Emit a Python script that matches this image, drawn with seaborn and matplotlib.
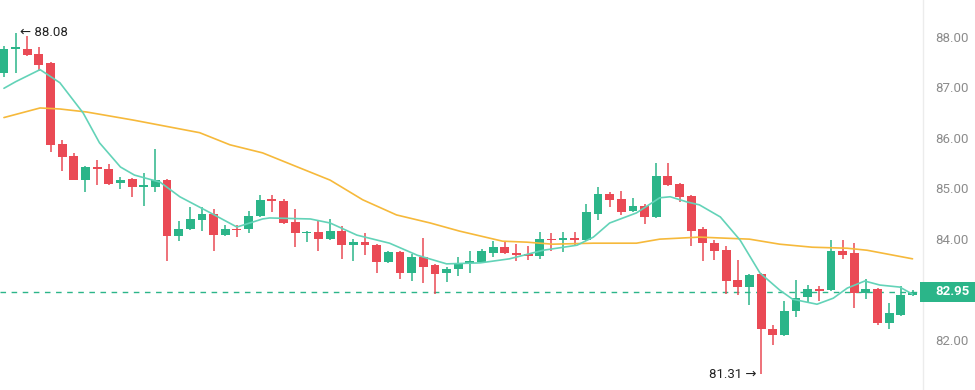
import numpy as np
import pandas as pd
import matplotlib
matplotlib.use("Agg")
import matplotlib.pyplot as plt
import matplotlib.transforms as mtransforms
from matplotlib.patches import Rectangle
import seaborn as sns

# candle data (one entry per bar)
opens = [87.29, 87.76, 87.76, 87.66, 87.48, 85.88, 85.64, 85.16, 85.42, 85.38,
         85.10, 85.18, 85.02, 85.02, 85.16, 84.05, 84.19, 84.37, 84.49, 84.07,
         84.19, 84.19, 84.45, 84.77, 84.75, 84.33, 84.11, 84.13, 83.99, 84.15,
         83.87, 83.93, 83.87, 83.54, 83.73, 83.32, 83.63, 83.48, 83.32, 83.40,
         83.52, 83.54, 83.71, 83.83, 83.71, 83.69, 83.65, 83.99, 83.97, 84.01,
         83.97, 84.49, 84.89, 84.79, 84.55, 84.65, 84.43, 85.24, 85.08, 84.85,
         84.19, 83.91, 83.77, 83.18, 83.04, 83.30, 82.21, 82.09, 82.56, 82.84,
         83.00, 82.98, 83.75, 83.71, 82.92, 83.00, 82.33, 82.48, 82.88]
highs = [87.82, 88.08, 88.02, 87.80, 87.50, 85.96, 85.70, 85.44, 85.56, 85.48,
         85.22, 85.20, 85.30, 85.78, 85.18, 84.35, 84.63, 84.63, 84.59, 84.27,
         84.27, 84.55, 84.87, 84.87, 84.79, 84.59, 84.15, 84.35, 84.39, 84.25,
         83.99, 84.11, 83.89, 83.75, 83.75, 83.69, 84.01, 83.50, 83.44, 83.63,
         83.75, 83.79, 83.95, 83.93, 83.89, 83.85, 84.13, 84.11, 84.13, 84.13,
         84.69, 85.02, 84.92, 84.94, 84.81, 84.69, 85.50, 85.50, 85.10, 84.87,
         84.23, 83.97, 83.85, 83.58, 83.30, 83.32, 82.29, 82.76, 83.18, 83.08,
         83.06, 83.97, 83.97, 83.91, 83.20, 83.02, 82.72, 83.06, 82.99]
lows = [87.21, 87.29, 87.62, 87.33, 85.72, 85.34, 85.16, 84.92, 85.06, 85.06,
        84.98, 84.83, 84.65, 84.92, 83.56, 83.95, 84.17, 84.15, 83.75, 84.05,
        84.03, 84.11, 84.43, 84.53, 84.29, 83.83, 83.93, 83.75, 83.97, 83.60,
        83.56, 83.67, 83.32, 83.52, 83.20, 83.16, 83.12, 82.90, 83.14, 83.26,
        83.32, 83.52, 83.63, 83.69, 83.56, 83.58, 83.60, 83.75, 83.73, 83.87,
        83.95, 84.37, 84.63, 84.47, 84.53, 84.29, 84.41, 85.04, 84.73, 83.85,
        83.56, 83.58, 82.90, 82.88, 82.68, 81.31, 81.89, 82.07, 82.44, 82.72,
        82.76, 82.96, 83.60, 82.62, 82.80, 82.29, 82.21, 82.46, 82.86]
closes = [87.76, 87.76, 87.64, 87.44, 85.86, 85.62, 85.16, 85.42, 85.38, 85.08,
          85.16, 85.02, 85.06, 85.16, 84.05, 84.19, 84.39, 84.49, 84.07, 84.19,
          84.17, 84.45, 84.77, 84.75, 84.31, 84.11, 84.13, 83.99, 84.15, 83.87,
          83.93, 83.87, 83.54, 83.73, 83.32, 83.63, 83.44, 83.30, 83.40, 83.52,
          83.56, 83.75, 83.83, 83.71, 83.67, 83.65, 83.99, 83.97, 84.01, 83.97,
          84.53, 84.89, 84.77, 84.53, 84.65, 84.43, 85.24, 85.06, 84.83, 84.15,
          83.91, 83.75, 83.16, 83.04, 83.28, 82.21, 82.09, 82.56, 82.82, 83.00,
          82.96, 83.75, 83.67, 82.92, 83.00, 82.33, 82.52, 82.88, 82.95]

# moving average lines (bar index, price)
ma_fast_idx = [0, 1.0, 3.1, 4.8, 6.8, 8.2, 10.0, 11.2, 13.4, 15.1, 17.9, 20.0,
               22.2, 22.8, 26.3, 28.0, 30.3, 33.1, 35.5, 38.0, 40.9, 43.4,
               46.3, 49.2, 50.6, 52.0, 54.3, 56.3, 57.2, 58.6, 59.7, 61.5,
               63.2, 64.9, 66.6, 67.7, 69.8, 71.2, 72.4, 73.9, 75.2, 76.9, 78.0]
ma_fast = [86.98, 87.11, 87.35, 87.09, 86.49, 85.90, 85.42, 85.26, 85.12, 84.83,
           84.49, 84.23, 84.39, 84.41, 84.39, 84.31, 84.07, 83.91, 83.67, 83.50,
           83.52, 83.60, 83.77, 83.87, 84.03, 84.31, 84.51, 84.81, 84.83, 84.73,
           84.67, 84.43, 83.97, 83.32, 82.98, 82.80, 82.70, 82.82, 83.02, 83.16,
           83.08, 83.04, 82.90]
ma_slow_idx = [0, 3.1, 4.8, 7.1, 11.1, 16.8, 19.4, 22.2, 25.2, 28.0, 30.8,
               33.7, 36.6, 39.1, 42.8, 44.9, 47.1, 50.6, 54.3, 56.3, 59.7,
               64.0, 66.6, 69.4, 72.4, 74.1, 78.0]
ma_slow = [86.40, 86.59, 86.57, 86.51, 86.35, 86.10, 85.86, 85.70, 85.42, 85.16,
           84.77, 84.47, 84.31, 84.15, 83.95, 83.93, 83.89, 83.91, 83.91, 83.99,
           84.03, 83.99, 83.89, 83.83, 83.81, 83.77, 83.60]

ytick_vals = [82, 84, 85, 86, 87, 88]

GREEN = "#2bb589"
RED = "#ea4a55"
FAST_C = "#63d3b8"
SLOW_C = "#f6b93b"

sns.set_theme(style="white")
plt.rcParams['font.family'] = ['Roboto', 'DejaVu Sans']

fig = plt.figure(figsize=(9.75, 3.9), dpi=100)
ax = fig.add_axes([0, 0, 923 / 975, 1])

df = pd.DataFrame({"open": opens, "high": highs, "low": lows, "close": closes})
df["idx"] = np.arange(len(df))
up = df["close"] >= df["open"]
colors = np.where(up, GREEN, RED)

# wicks
ax.vlines(df["idx"], df["low"], df["high"], colors=colors, linewidth=1.1, zorder=2)
# bodies
body_low = df[["open", "close"]].min(axis=1)
body_h = (df["open"] - df["close"]).abs().clip(lower=0.03)
ax.bar(df["idx"], body_h, bottom=body_low, width=0.76, color=colors,
       linewidth=0, zorder=3)

fast_df = pd.DataFrame({"idx": ma_fast_idx, "price": ma_fast})
slow_df = pd.DataFrame({"idx": ma_slow_idx, "price": ma_slow})
sns.lineplot(data=slow_df, x="idx", y="price", ax=ax, color=SLOW_C, linewidth=1.2, zorder=4)
sns.lineplot(data=fast_df, x="idx", y="price", ax=ax, color=FAST_C, linewidth=1.2, zorder=4)

last = closes[-1]
ax.axhline(last, color=GREEN, linewidth=1.0, linestyle=(0, (4, 4)), zorder=1)

ax.set_xlim(-0.34, 78.9)
ax.set_ylim(81.0, 88.73)
ax.set_xlabel("")
ax.set_ylabel("")
ax.set_xticks([])
ax.yaxis.tick_right()
ax.set_yticks(ytick_vals)
ax.set_yticklabels([f"{v:.2f}" for v in ytick_vals])
ax.tick_params(axis="y", length=0, pad=8.5, labelsize=9.5, labelcolor="#8c8c8c")
for s in ["top", "left", "bottom"]:
    ax.spines[s].set_visible(False)
ax.spines["right"].set_color("#ececec")
ax.spines["right"].set_linewidth(1)

# high / low markers
hi_i = int(np.argmax(highs))
lo_i = int(np.argmin(lows))
ax.annotate(f"\u2190 {highs[hi_i]:.2f}", xy=(hi_i, highs[hi_i]), xytext=(3, 0),
            textcoords="offset points", ha="left", va="center", fontsize=9.5, color="#222222")
ax.annotate(f"{lows[lo_i]:.2f} \u2192", xy=(lo_i, lows[lo_i]), xytext=(-3, 0),
            textcoords="offset points", ha="right", va="center", fontsize=9.5, color="#222222")

# last price tag
trans = mtransforms.blended_transform_factory(ax.transAxes, ax.transData)
tag_h = 20 / 390 * (88.73 - 81.0)
ax.add_patch(Rectangle((920 / 923, last - tag_h / 2), 55 / 923, tag_h, transform=trans,
                       facecolor=GREEN, edgecolor="none", clip_on=False, zorder=5))
ax.text(935 / 923, last, f"{last:.2f}", transform=trans, ha="left", va="center",
        fontsize=9.5, fontweight="bold", color="white", clip_on=False, zorder=6)

fig.savefig("out.png", dpi=100)
